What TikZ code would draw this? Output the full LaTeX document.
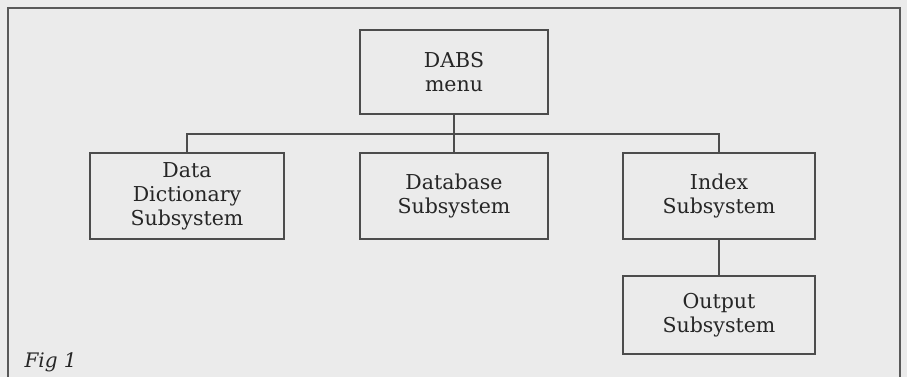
\documentclass[tikz,border=0pt]{standalone}
\usepackage{fontspec}
\setmainfont{DejaVu Serif}
\begin{document}
\begin{tikzpicture}[x=1pt,y=-1pt,
  box/.style={draw=black!70,line width=1.3pt,fill=none,inner sep=0pt,align=center,
    font=\fontsize{20.5}{24}\selectfont,text=black!85},
  wire/.style={draw=black!70,line width=1.3pt}]
\useasboundingbox[fill=black!8] (0,0) rectangle (907,377);
\draw[draw=black!65,line width=1.3pt] (8,380) -- (8,8) -- (900,8) -- (900,380);
\node[box,minimum width=188pt,minimum height=84pt] (dabs) at (454,72) {DABS\\menu};
\node[box,minimum width=194pt,minimum height=86pt] (dd) at (187,196) {Data\\Dictionary\\Subsystem};
\node[box,minimum width=188pt,minimum height=86pt] (db) at (454,196) {Database\\Subsystem};
\node[box,minimum width=192pt,minimum height=86pt] (ix) at (719,196) {Index\\Subsystem};
\node[box,minimum width=192pt,minimum height=78pt] (out) at (719,315) {Output\\Subsystem};
\coordinate (bus) at (454,134);
\draw[wire] (dabs.south) -- (bus);
\draw[wire] (dd.north) |- (bus) -| (ix.north);
\draw[wire] (bus) -- (db.north);
\draw[wire] (ix.south) -- (out.north);
\node[anchor=west,font=\fontsize{20}{22}\selectfont\itshape,text=black!85] (fig) at (21,362) {Fig 1};
\end{tikzpicture}
\end{document}
